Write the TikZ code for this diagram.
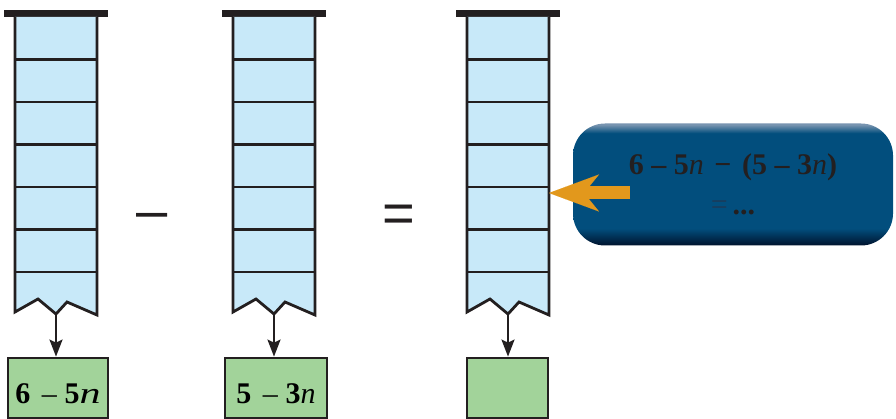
\documentclass[tikz,border=0pt]{standalone}
\usepackage{fontspec}
\setmainfont{Liberation Serif}
\newfontfamily\signfont{Liberation Sans}
\usetikzlibrary{arrows.meta, positioning, calc}

\definecolor{cellblue}{RGB}{200,233,249}
\definecolor{outgreen}{RGB}{162,211,154}
\definecolor{inkline}{RGB}{35,31,32}
\definecolor{arroworange}{RGB}{226,152,28}
\definecolor{btnDark}{RGB}{0,18,44}
\definecolor{btnMain}{RGB}{2,78,125}
\definecolor{btnLight}{RGB}{120,148,176}
\definecolor{eqblue}{RGB}{28,58,88}
\pgfdeclareverticalshading{btnshade}{100bp}{color(0bp)=(btnDark); color(25bp)=(btnDark); color(32bp)=(btnMain); color(71bp)=(btnMain); color(74.5bp)=(btnLight); color(100bp)=(btnLight)}

\begin{document}
\begin{tikzpicture}[x=1pt, y=-1pt,
    every node/.style={font=\fontsize{30}{32}\selectfont},
    colbody/.style={fill=cellblue, draw=inkline, line width=2.8pt},
    cellline/.style={draw=inkline, line width=2.8pt},
    topbar/.style={fill=inkline},
    outbox/.style={draw=inkline, fill=outgreen, line width=2.8pt, minimum height=60pt, text height=30pt, text depth=0pt, inner sep=0pt},
    downarrow/.style={-{Stealth[length=17pt,width=13pt,inset=3pt]}, line width=2.2pt, draw=inkline},
    signnode/.style={font=\signfont\fontsize{56}{60}\selectfont, text=inkline, anchor=base},
    msgbox/.style={shade, shading=btnshade, rounded corners=32pt, minimum width=320pt, minimum height=122pt, align=center, text=inkline, font=\fontsize{30}{40}\selectfont},
    orangearrow/.style={-{Stealth[length=50pt,width=37pt,inset=15pt,line width=0.01pt]}, line width=13pt, draw=arroworange}
]
\useasboundingbox (0,0) rectangle (896,419);
% the three stacks of cells
\foreach \nm/\lx in {A/15, B/233, C/467} {
  \fill[topbar] (\lx-11,10) rectangle (\lx+93,17);
  \draw[colbody] (\lx,17) -- (\lx,312) -- (\lx+23,299) -- (\lx+41,314) -- (\lx+52,302) -- (\lx+82,315) -- (\lx+82,17);
  \foreach \ly in {59.5,102,144.5,187,229.5,272}
    \draw[cellline] (\lx,\ly) -- (\lx+82,\ly);
  \coordinate (tip\nm) at (\lx+41,314);
  \coordinate (edge\nm) at (\lx+82,193);
}
% results
\node[outbox, minimum width=100pt] (outA) at (58,388) {\textbf{6}\hspace{0.38em}– \textbf{5}\scalebox{1.4}[1]{\textit{n}}};
\node[outbox, minimum width=102pt] (outB) at (276,388) {\textbf{5}\hspace{0.38em}– \textbf{3}\textit{n}};
\node[outbox, minimum width=81pt] (outC) at (507.5,388) {};
\draw[downarrow] (tipA) -- (tipA |- outA.north);
\draw[downarrow] (tipB) -- (tipB |- outB.north);
\draw[downarrow] (tipC) -- (tipC |- outC.north);
% signs
\node[signnode] (minus) at (152.5,230) {–};
\node[signnode] (equals) at (398.5,233) {=};
% hint box
\node[msgbox] (msg) at (733,184.5) {\textbf{6 – 5}\textit{n}\hspace{0.35em}\textbf{−}\hspace{0.35em}\textbf{(5 – 3}\textit{n}\textbf{)}\\ {\color{eqblue}=}\,\textbf{...}};
\coordinate (arrowstart) at (630,193);
\draw[orangearrow] (arrowstart) -- (edgeC);
\end{tikzpicture}
\end{document}
